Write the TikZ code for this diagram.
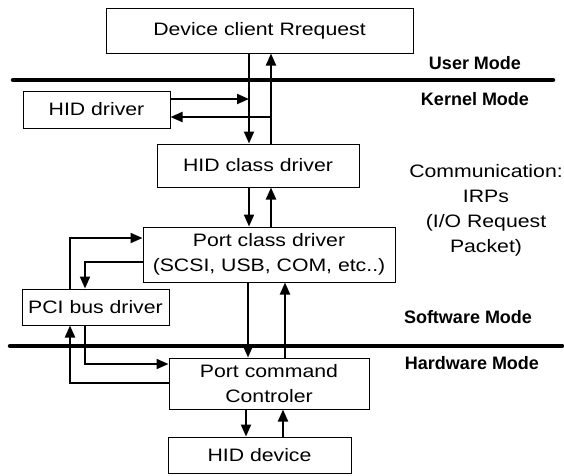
\documentclass[tikz,border=0pt]{standalone}
\usepackage{fontspec}
\setmainfont{Liberation Sans}
\newfontfamily\widesans[FakeStretch=1.18]{Liberation Sans}
\usetikzlibrary{arrows.meta}

\begin{document}
\begin{tikzpicture}[x=1pt,y=-1pt,
	box/.style={draw,line width=1pt,inner sep=0pt,align=center,font=\widesans\fontsize{18}{25}\selectfont},
	wire/.style={line width=2pt,-{Triangle[length=12pt,width=10pt]}},
	sep/.style={line width=4.5pt,line cap=round},
	mode/.style={font=\bfseries\fontsize{18}{22}\selectfont},
	note/.style={align=center,font=\widesans\fontsize{18}{25}\selectfont}]
	\useasboundingbox (0,0) rectangle (564,475);
	% user / kernel / hardware split
	\draw[sep] (13,80) -- (553,80);
	\draw[sep] (10,346) -- (562,346);
	\node[mode] (usr) at (475,63) {User Mode};
	\node[mode] (krn) at (475,99) {Kernel Mode};
	\node[mode] (sw) at (468,317) {Software Mode};
	\node[mode] (hw) at (472,363) {Hardware Mode};
	\node[note] (irp) at (486,210) {Communication:\\IRPs\\(I/O Request\\Packet)};
	% boxes
	\node[box,minimum width=307pt,minimum height=45pt] (dev) at (259.5,30.5) {Device client Rrequest};
	\node[box,minimum width=147pt,minimum height=37pt] (hiddrv) at (96.5,109.5) {HID driver};
	\node[box,minimum width=202pt,minimum height=43pt] (hidcls) at (258,165.5) {HID class driver};
	\node[box,minimum width=252pt,minimum height=55pt] (portcls) at (269,254.5) {Port class driver\\(SCSI, USB, COM, etc..)};
	\node[box,minimum width=147pt,minimum height=36pt] (pcibus) at (95.5,307) {PCI bus driver};
	\node[box,minimum width=200pt,minimum height=51pt] (portcmd) at (269,383.5) {Port command\\Controler};
	\node[box,minimum width=183pt,minimum height=36pt] (hiddev) at (259.5,455) {HID device};
	% lanes for the IRP arrows
	\coordinate (dnA) at (249,0);
	\coordinate (upA) at (271,0);
	\coordinate (dnB) at (248,0);
	\coordinate (upB) at (285,0);
	\coordinate (dnC) at (246,0);
	\coordinate (upC) at (283,0);
	\coordinate (pA) at (70,0);
	\coordinate (pB) at (85,0);
	\coordinate (hA) at (0,99);
	\coordinate (hB) at (0,117);
	\coordinate (rA) at (0,238);
	\coordinate (rB) at (0,262);
	\coordinate (rC) at (0,364);
	\coordinate (rD) at (0,383);
	% request path
	\draw[wire] (dev.south -| dnA) -- (hidcls.north -| dnA);
	\draw[wire] (hidcls.north -| upA) -- (dev.south -| upA);
	\draw[wire] (hiddrv.east |- hA) -- (dnA |- hA);
	\draw[wire] (upA |- hB) -- (hiddrv.east |- hB);
	\draw[wire] (hidcls.south -| dnA) -- (portcls.north -| dnA);
	\draw[wire] (portcls.north -| upA) -- (hidcls.south -| upA);
	\draw[wire] (portcls.south -| dnB) -- (portcmd.north -| dnB);
	\draw[wire] (portcmd.north -| upB) -- (portcls.south -| upB);
	\draw[wire] (portcmd.south -| dnC) -- (hiddev.north -| dnC);
	\draw[wire] (hiddev.north -| upC) -- (portcmd.south -| upC);
	% bus driver loops
	\draw[wire] (pcibus.north -| pA) |- (portcls.west |- rA);
	\draw[wire] (portcls.west |- rB) -| (pcibus.north -| pB);
	\draw[wire] (pcibus.south -| pB) |- (portcmd.west |- rC);
	\draw[wire] (portcmd.west |- rD) -| (pcibus.south -| pA);
\end{tikzpicture}
\end{document}
